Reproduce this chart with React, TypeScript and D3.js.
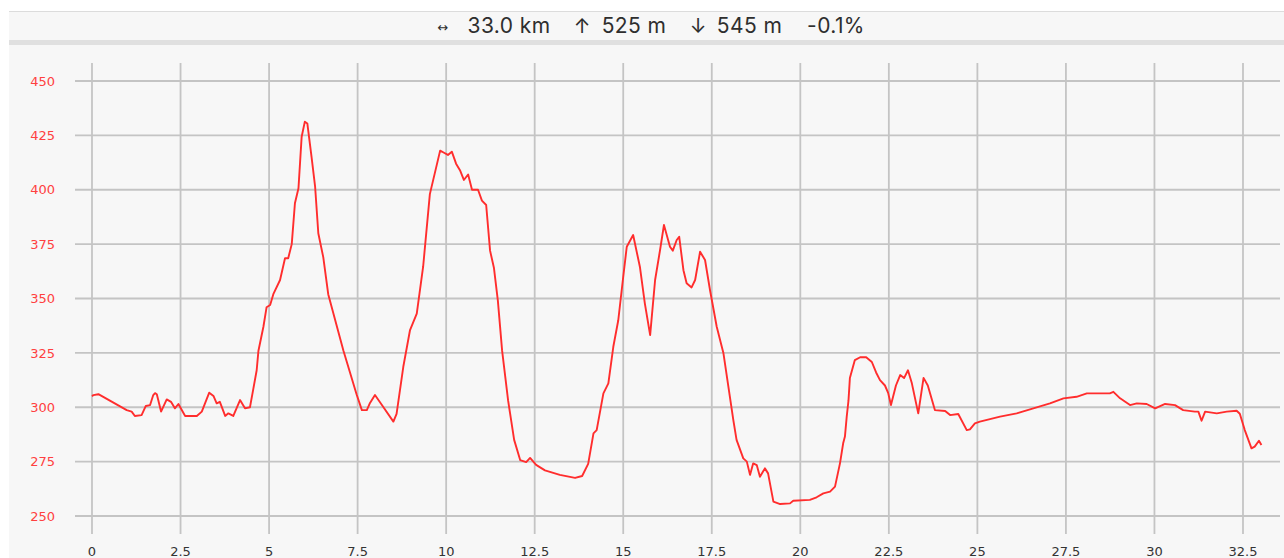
import * as d3 from 'd3';

// elevation profile (km, m)
const distKm = [
  0, 0.04, 0.18, 0.98, 1.12, 1.21, 1.4, 1.52, 1.64, 1.73, 1.78, 1.83, 1.95, 2.11, 2.23, 2.34, 2.44, 2.63, 2.96, 3.1,
  3.31, 3.43, 3.52, 3.61, 3.76, 3.85, 3.99, 4.18, 4.32, 4.46, 4.55, 4.65, 4.7, 4.84, 4.93, 5.03, 5.12, 5.31, 5.45, 5.54,
  5.64, 5.73, 5.83, 5.92, 6.01, 6.08, 6.2, 6.3, 6.39, 6.53, 6.67, 7.1, 7.47, 7.62, 7.76, 7.85, 7.99, 8.23, 8.51, 8.6,
  8.79, 8.98, 9.17, 9.35, 9.54, 9.83, 9.94, 10.05, 10.16, 10.28, 10.39, 10.5, 10.62, 10.73, 10.9, 11.01, 11.13, 11.24, 11.35, 11.46,
  11.58, 11.75, 11.92, 12.09, 12.26, 12.37, 12.54, 12.79, 13.21, 13.64, 13.84, 14.01, 14.16, 14.25, 14.44, 14.58, 14.72, 14.86, 15.0, 15.1,
  15.28, 15.47, 15.61, 15.76, 15.9, 16.04, 16.15, 16.32, 16.4, 16.51, 16.58, 16.7, 16.79, 16.93, 17.03, 17.17, 17.31, 17.45, 17.64, 17.83,
  17.97, 18.11, 18.2, 18.39, 18.49, 18.58, 18.67, 18.77, 18.86, 19.0, 19.09, 19.24, 19.43, 19.71, 19.8, 20.27, 20.46, 20.65, 20.84, 20.98,
  21.12, 21.21, 21.26, 21.31, 21.36, 21.4, 21.54, 21.69, 21.86, 22.02, 22.14, 22.25, 22.39, 22.48, 22.56, 22.7, 22.82, 22.93, 23.04, 23.15,
  23.33, 23.48, 23.6, 23.8, 24.09, 24.23, 24.46, 24.7, 24.79, 24.93, 25.07, 25.64, 26.11, 26.58, 27.05, 27.43, 27.8, 28.09, 28.74, 28.84,
  29.03, 29.31, 29.5, 29.78, 30.02, 30.3, 30.58, 30.81, 31.14, 31.24, 31.33, 31.43, 31.76, 32.04, 32.32, 32.41, 32.55, 32.74, 32.83, 32.95,
  33.02,
];

const elevM = [
  305, 305.6, 306, 298.7, 298, 296, 296.4, 300.6, 301, 305.6, 306.5, 306, 298, 303.6, 302.5, 299.5, 301.5, 296, 296, 298,
  306.7, 305.2, 301.8, 302.5, 296, 297.2, 296, 303.3, 299.5, 300, 308, 317, 326, 337, 346, 347, 352, 358.5, 368.5, 368.5,
  375, 393.8, 400.7, 424.4, 431.3, 430.5, 415, 401.4, 380, 369, 352, 326, 306, 298.7, 298.7, 302, 305.6, 300, 293.4, 297,
  318.6, 335.5, 343, 364.6, 398, 418, 417, 416, 417.5, 412, 409, 404.5, 407, 400, 400, 395, 393, 372, 364, 349,
  326, 303, 285, 275.7, 274.8, 276.7, 273.5, 271, 268.9, 267.5, 268.4, 274, 288, 289.5, 306.4, 311, 327.8, 340, 360, 373.8,
  379.2, 364.6, 347.8, 333.2, 358.5, 372.3, 383.8, 373.8, 372, 376.9, 378.4, 363, 357, 355.1, 358.5, 371.5, 367.7, 353.9, 337, 324.8,
  309.4, 294, 285, 276.5, 275, 268.9, 274.2, 273.4, 268, 271.9, 269.6, 256.6, 255.5, 255.8, 257, 257.4, 258.6, 260.4, 261.2, 263.5,
  274.2, 283.4, 286.5, 295.6, 303, 313.4, 321.7, 323, 323, 320.8, 316, 312.5, 310, 306.6, 301, 310, 314.8, 313.4, 317, 311,
  297.2, 313.5, 310, 298.7, 298.3, 296.4, 296.9, 289.5, 289.8, 292.6, 293.4, 295.7, 297.2, 299.5, 301.8, 304.1, 304.8, 306.4, 306.4, 307.1,
  304.1, 301, 301.8, 301.5, 299.5, 301.5, 301, 298.7, 298, 298, 293.8, 298, 297.2, 298, 298.4, 297, 289.5, 281.1, 281.9, 284.6,
  282.6,
];

const xTicks = [0, 2.5, 5, 7.5, 10, 12.5, 15, 17.5, 20, 22.5, 25, 27.5, 30, 32.5];
const yTicks = [250, 275, 300, 325, 350, 375, 400, 425, 450];

// header summary pieces, centred where they sit in the strip
const summary = [
  { label: '↔', cx: 443, size: 13 },
  { label: '33.0 km', cx: 509, size: 21 },
  { label: '↑', cx: 582, size: 20 },
  { label: '525 m', cx: 634, size: 21 },
  { label: '↓', cx: 698, size: 20 },
  { label: '545 m', cx: 749.5, size: 21 },
  { label: '-0.1%', cx: 836, size: 21 },
];

const W = 1284;
const H = 558;

export default function App() {
  const x = d3.scaleLinear().domain([0, 32.5]).range([92, 1243]);
  const y = d3.scaleLinear().domain([250, 450]).range([516, 81]);

  const points = distKm.map((d, i) => [d, elevM[i]] as [number, number]);
  const line = d3.line<[number, number]>()
    .x(d => x(d[0]))
    .y(d => y(d[1]));

  const font = '"DejaVu Sans", sans-serif';

  return (
    <svg width={W} height={H} style={{ position: 'fixed', left: 0, top: 0, display: 'block' }}>
      <rect x={0} y={0} width={W} height={H} fill="#ffffff" />
      {/* header strip */}
      <rect x={9} y={11} width={W - 9} height={29} fill="#f7f7f7" />
      <line x1={9} x2={W} y1={11.5} y2={11.5} stroke="#dcdcdc" strokeWidth={1} />
      <rect x={9} y={40} width={W - 9} height={5} fill="#e0e0e0" />
      {summary.map(s => (
        <text key={s.label} x={s.cx} y={s.label === '↔' ? 32 : 33} textAnchor="middle"
          fontFamily={s.label === '↔' ? font : 'Inter, sans-serif'} fontSize={s.size}
          letterSpacing={s.size > 20 ? 0.4 : 0} fill="#2e2e2e">
          {s.label}
        </text>
      ))}
      {/* chart panel */}
      <rect x={9} y={45} width={W - 9} height={H - 45} fill="#f7f7f7" />

      {/* grid */}
      {xTicks.map(t => (
        <line key={'vx' + t} x1={x(t)} x2={x(t)} y1={63} y2={534} stroke="#c4c4c4" strokeWidth={1.8} />
      ))}
      {yTicks.map(t => (
        <line key={'hy' + t} x1={75} x2={1280} y1={y(t)} y2={y(t)} stroke="#c4c4c4" strokeWidth={1.8} />
      ))}

      {/* y labels */}
      {yTicks.map(t => (
        <text key={'ly' + t} x={55} y={y(t)} dy="0.36em" textAnchor="end" fontFamily={font} fontSize={13} fill="#ff4040">
          {t}
        </text>
      ))}
      {/* x labels */}
      {xTicks.map(t => (
        <text key={'lx' + t} x={x(t)} y={556} textAnchor="middle" fontFamily={font} fontSize={13} fill="#333">
          {d3.format('~g')(t)}
        </text>
      ))}

      {/* profile */}
      <path d={line(points) ?? ''} fill="none" stroke="#ff2d2d" strokeWidth={1.9} strokeLinejoin="round" />
    </svg>
  );
}
